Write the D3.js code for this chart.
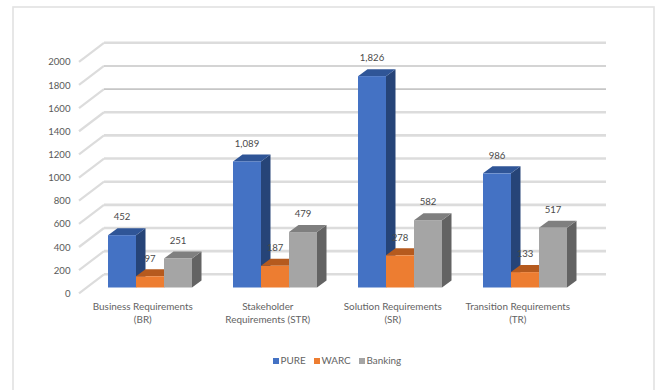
<!DOCTYPE html>
<html><head><meta charset="utf-8"><script src="https://cdn.jsdelivr.net/npm/d3@7"></script>
<style>html,body{margin:0;padding:0;background:#fff}svg{display:block}text{font-family:Lato,"Open Sans",sans-serif}</style></head>
<body><svg id="c" width="656" height="390"></svg>
<script>
const categories = [["Business Requirements","(BR)"],["Stakeholder","Requirements (STR)"],["Solution Requirements","(SR)"],["Transition Requirements","(TR)"]];
const seriesNames = ["PURE","WARC","Banking"];
const pure = [452,1089,1826,986];
const warc = [97,187,278,133];
const banking = [251,479,582,517];
const labelPure = ["452","1,089","1,826","986"];
const labelWarc = ["97","187","278","133"];
const labelBanking = ["251","479","582","517"];
const yTicks = [0,200,400,600,800,1000,1200,1400,1600,1800,2000];
const colors = {front:["#4472c4","#ed7d31","#a5a5a5"],top:["#2f5597","#b55a1e","#7f7f7f"],side:["#264478","#9e480e","#636363"]};

const svg = d3.select("#c");
svg.append("rect").attr("x",13).attr("y",7).attr("width",641).attr("height",400).attr("fill","#fff").attr("stroke","#e2e2e2").attr("stroke-width",1.6);

const y = d3.scaleLinear().domain([0,2000]).range([287.5,56]);
const wallDx=25, wallDy=-19, wallLeft=79, wallRight=581;
const g = svg.append("g");
yTicks.forEach(t=>{
  const yy=y(t)+5.8;
  const dark=(t===1600||t===1800);
  g.append("path").attr("d",d3.line()([[wallLeft,yy],[wallLeft+wallDx,yy+wallDy]]))
   .attr("fill","none").attr("stroke","#dcdcdc").attr("stroke-width",2.2);
  g.append("path").attr("d",d3.line()([[wallLeft+wallDx,yy+wallDy],[wallRight+wallDx,yy+wallDy]]))
   .attr("fill","none").attr("stroke",dark?"#c6c6c6":"#dcdcdc").attr("stroke-width",dark?1.6:2.6);
});
const axisG = svg.append("g").attr("transform","translate(70.5,5.5)")
  .call(d3.axisLeft(y).tickValues(yTicks).tickFormat(d3.format("d")).tickSize(0).tickPadding(0));
axisG.select(".domain").remove();
axisG.selectAll("text").attr("fill","#595959").style("font-size","9.6px").attr("dy","0.35em");

const x0 = d3.scaleBand().domain(d3.range(4)).range([87.5,587.5]);
const x1 = d3.scaleBand().domain(d3.range(3)).range([20.5,104.5]);
const depthX=9.5, depthY=-7;
const data=[pure,warc,banking], labels=[labelPure,labelWarc,labelBanking];
const bars=svg.append("g");
const texts=svg.append("g");
d3.range(4).forEach(c=>{
  d3.range(3).forEach(s=>{
    const L=x0(c)+x1(s),W=x1.bandwidth(),T=y(data[s][c]),B=y(0);
    bars.append("path").attr("d",d3.line()([[L+W,T],[L+W+depthX,T+depthY],[L+W+depthX,B+depthY],[L+W,B]])+"Z").attr("fill",colors.side[s]);
    bars.append("path").attr("d",d3.line()([[L,T],[L+depthX,T+depthY],[L+W+depthX,T+depthY],[L+W,T]])+"Z").attr("fill",colors.top[s]);
    bars.append("rect").attr("x",L).attr("y",T).attr("width",W).attr("height",B-T).attr("fill",colors.front[s]);
    texts.append("text").attr("x",L+W/2).attr("y",T-14.7)
      .attr("text-anchor","middle").attr("fill","#4a4a4a").style("font-size","9.6px").text(labels[s][c]);
  });
  const t=texts.append("text").attr("text-anchor","middle").attr("fill","#636363").style("font-size","9.9px");
  categories[c].forEach((ln,i)=>t.append("tspan").attr("x",x0(c)+x0.bandwidth()/2-7.2).attr("y",310+i*12.8).text(ln));
});

const lx=[273,314,359];
seriesNames.forEach((n,i)=>{
  svg.append("rect").attr("x",lx[i]).attr("y",358).attr("width",6).attr("height",6).attr("fill",colors.front[i]);
  svg.append("text").attr("x",lx[i]+7.5).attr("y",364.3).attr("fill","#636363").style("font-size","9.9px").text(n);
});
</script></body></html>
